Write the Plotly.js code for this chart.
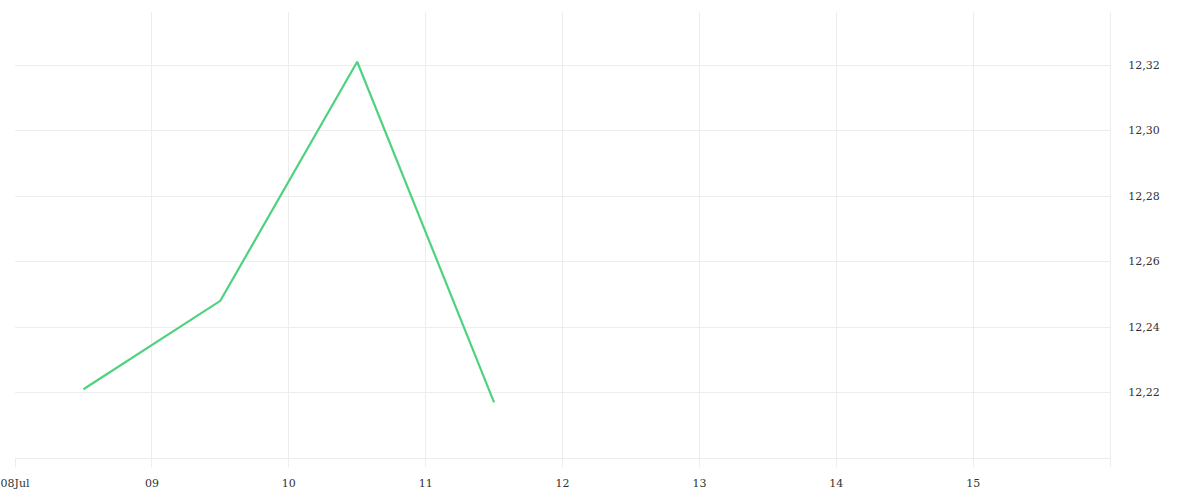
<!DOCTYPE html>
<html>
<head>
<meta charset="utf-8">
<script src="https://cdn.plot.ly/plotly-3.0.1.min.js"></script>
<style>
  html, body { margin: 0; padding: 0; background: #fff; }
  #graph { width: 1200px; height: 500px; }
</style>
</head>
<body>
<div id="graph"></div>
<script>
// daily closes, plotted at midday
const dates = ['2024-07-08 12:00', '2024-07-09 12:00', '2024-07-10 12:00', '2024-07-11 12:00']
const prices = [12.221, 12.248, 12.321, 12.217]

const dayTicks = ['2024-07-08', '2024-07-09', '2024-07-10', '2024-07-11', '2024-07-12',
    '2024-07-13', '2024-07-14', '2024-07-15', '2024-07-16']
const dayLabels = ['08Jul', '09', '10', '11', '12', '13', '14', '15', '']

const priceTicks = [12.22, 12.24, 12.26, 12.28, 12.30, 12.32]

const gridColor = '#ededed'

let data = [
    {
        type: 'scatter',
        mode: 'lines',
        x: dates,
        y: prices,
        line: {color: '#4fd27f', width: 2.2},
        hoverinfo: 'x+y'
    }
]

let layout = {
    width: 1200,
    height: 500,
    margin: {l: 15, r: 90, t: 12, b: 42},
    paper_bgcolor: '#ffffff',
    plot_bgcolor: '#ffffff',
    showlegend: false,
    separators: ',.',
    font: {family: 'DejaVu Serif, serif', size: 11, color: '#333333'},
    xaxis: {
        type: 'date',
        range: ['2024-07-08', '2024-07-16'],
        tickvals: dayTicks,
        ticktext: dayLabels,
        showgrid: true,
        gridcolor: gridColor,
        gridwidth: 1,
        zeroline: false,
        showline: true,
        linecolor: gridColor,
        ticks: 'outside',
        ticklen: 8,
        tickcolor: gridColor,
        ticklabelstandoff: 7,
        fixedrange: true
    },
    yaxis: {
        side: 'right',
        range: [12.20, 12.3362],
        tickvals: priceTicks,
        tickformat: '.2f',
        showgrid: true,
        gridcolor: gridColor,
        gridwidth: 1,
        zeroline: false,
        showline: true,
        linecolor: gridColor,
        ticks: '',
        ticklabelstandoff: 15,
        fixedrange: true
    }
}

Plotly.newPlot('graph', data, layout, {displayModeBar: false, staticPlot: true})
</script>
</body>
</html>
